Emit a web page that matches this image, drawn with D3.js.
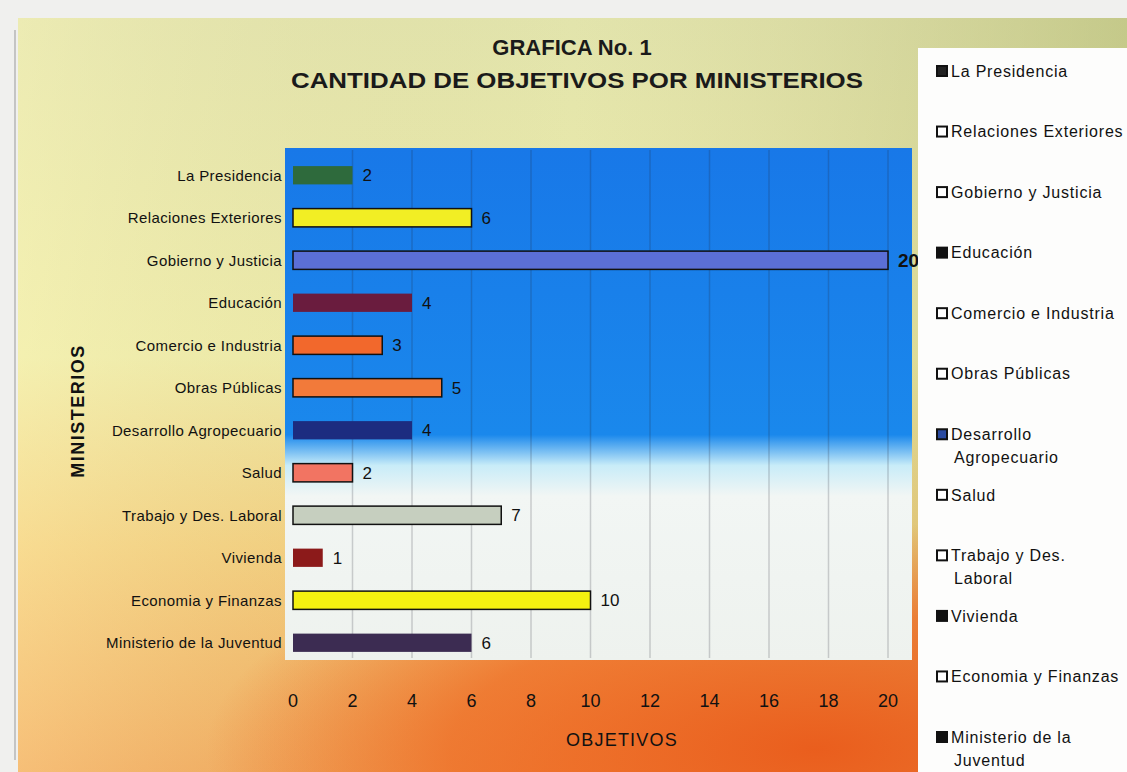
<!DOCTYPE html>
<html>
<head>
<meta charset="utf-8">
<script src="https://cdn.jsdelivr.net/npm/d3@7"></script>
<style>
  body { margin: 0; background: #fff; }
  svg { display: block; font-family: "Liberation Sans", Arial, sans-serif; }
</style>
</head>
<body>
<svg id="chart" width="1127" height="772"></svg>
<script>
(function () {
    'use strict';

    // datos
    var ministerios = ['La Presidencia', 'Relaciones Exteriores', 'Gobierno y Justicia', 'Educación',
        'Comercio e Industria', 'Obras Públicas', 'Desarrollo Agropecuario', 'Salud',
        'Trabajo y Des. Laboral', 'Vivienda', 'Economia y Finanzas', 'Ministerio de la Juventud'];
    var objetivos = [2, 6, 20, 4, 3, 5, 4, 2, 7, 1, 10, 6];
    var xTicks = [0, 2, 4, 6, 8, 10, 12, 14, 16, 18, 20];
    var legendLabels = [['La Presidencia'], ['Relaciones Exteriores'], ['Gobierno y Justicia'], ['Educación'],
        ['Comercio e Industria'], ['Obras Públicas'], ['Desarrollo', 'Agropecuario'], ['Salud'],
        ['Trabajo y Des.', 'Laboral'], ['Vivienda'], ['Economia y Finanzas'], ['Ministerio de la', 'Juventud']];

    var barColors = ['#2e6a3c', '#f2ee24', '#5b6fd6', '#6a1c3e', '#f2682c', '#f27a3a',
        '#1c2c80', '#f27462', '#c6cfbf', '#8c1a1a', '#f4f010', '#3c2c52'];
    var outlined = [false, true, true, false, true, true, false, true, true, false, true, false];
    var legendFill = ['#222', '#fff', '#fff', '#111', '#fff', '#fff', '#2a4aa0', '#fff', '#fff', '#111', '#fff', '#111'];

    var svg = d3.select('#chart');
    var defs = svg.append('defs');

    // fondo general
    var bg = defs.append('linearGradient').attr('id', 'bgV').attr('x1', 0).attr('y1', 0).attr('x2', 0).attr('y2', 1);
    bg.append('stop').attr('offset', 0).attr('stop-color', '#e2e4ac');
    bg.append('stop').attr('offset', 0.45).attr('stop-color', '#eeeca8');
    bg.append('stop').attr('offset', 0.7).attr('stop-color', '#f4cc78');
    bg.append('stop').attr('offset', 1).attr('stop-color', '#f2a050');

    var bgH = defs.append('linearGradient').attr('id', 'bgH').attr('x1', 0).attr('y1', 0).attr('x2', 1).attr('y2', 0);
    bgH.append('stop').attr('offset', 0).attr('stop-color', '#fff8c0').attr('stop-opacity', 0.35);
    bgH.append('stop').attr('offset', 0.5).attr('stop-color', '#c8c090').attr('stop-opacity', 0);
    bgH.append('stop').attr('offset', 1).attr('stop-color', '#a0a860').attr('stop-opacity', 0.45);

    var bgR = defs.append('radialGradient').attr('id', 'bgR').attr('cx', 0.72).attr('cy', 0.97).attr('r', 0.55)
        .attr('gradientTransform', 'translate(0.72,0.97) scale(1,0.55) translate(-0.72,-0.97)');
    bgR.append('stop').attr('offset', 0).attr('stop-color', '#ea5a1a').attr('stop-opacity', 0.95);
    bgR.append('stop').attr('offset', 0.6).attr('stop-color', '#ee6a24').attr('stop-opacity', 0.75);
    bgR.append('stop').attr('offset', 1).attr('stop-color', '#ee6a24').attr('stop-opacity', 0);

    var plotG = defs.append('linearGradient').attr('id', 'plotBg').attr('x1', 0).attr('y1', 0).attr('x2', 0).attr('y2', 1);
    plotG.append('stop').attr('offset', 0).attr('stop-color', '#1878e8');
    plotG.append('stop').attr('offset', 0.56).attr('stop-color', '#1a88ec');
    plotG.append('stop').attr('offset', 0.62).attr('stop-color', '#c8ecf8');
    plotG.append('stop').attr('offset', 0.68).attr('stop-color', '#f2f6f4');
    plotG.append('stop').attr('offset', 1).attr('stop-color', '#eef2ee');

    svg.append('rect').attr('width', 1127).attr('height', 772).attr('fill', '#f0f0ee');
    svg.append('rect').attr('x', 18).attr('y', 18).attr('width', 1109).attr('height', 754).attr('fill', 'url(#bgV)');
    svg.append('rect').attr('x', 18).attr('y', 18).attr('width', 1109).attr('height', 754).attr('fill', 'url(#bgH)');
    svg.append('rect').attr('x', 18).attr('y', 18).attr('width', 1109).attr('height', 754).attr('fill', 'url(#bgR)');
    svg.append('line').attr('x1', 15).attr('x2', 15).attr('y1', 30).attr('y2', 760)
        .attr('stroke', '#999').attr('stroke-width', 1);

    // escalas
    var x = d3.scaleLinear().domain([0, 20]).range([293, 888]);
    var y = d3.scaleBand().domain(ministerios).range([154, 664]).paddingInner(0.57).paddingOuter(0.285);

    // area del grafico
    svg.append('rect').attr('x', 285).attr('y', 148).attr('width', 627).attr('height', 512)
        .attr('fill', 'url(#plotBg)');

    svg.append('g').selectAll('line').data(xTicks.slice(1)).join('line')
        .attr('x1', d => x(d)).attr('x2', d => x(d))
        .attr('y1', 150).attr('y2', 658)
        .attr('stroke', '#223').attr('stroke-opacity', 0.2).attr('stroke-width', 1.5);

    // barras
    svg.append('g').selectAll('rect').data(objetivos).join('rect')
        .attr('x', x(0))
        .attr('y', (d, i) => y(ministerios[i]))
        .attr('width', d => x(d) - x(0))
        .attr('height', y.bandwidth())
        .attr('fill', (d, i) => barColors[i])
        .attr('stroke', (d, i) => outlined[i] ? '#111' : 'none')
        .attr('stroke-width', 1.5);

    // valores
    svg.append('g').selectAll('text').data(objetivos).join('text')
        .attr('x', d => x(d) + 10)
        .attr('y', (d, i) => y(ministerios[i]) + y.bandwidth() / 2)
        .attr('dy', '0.36em')
        .attr('font-size', d => d >= 20 ? 19 : 17)
        .attr('font-weight', d => d >= 20 ? 'bold' : 'normal')
        .attr('fill', '#111')
        .text(d => d);

    // etiquetas del eje y
    svg.append('g').selectAll('text').data(ministerios).join('text')
        .attr('x', 282)
        .attr('y', d => y(d) + y.bandwidth() / 2)
        .attr('dy', '0.36em')
        .attr('text-anchor', 'end')
        .attr('font-size', 15)
        .attr('letter-spacing', 0.4)
        .attr('fill', '#111')
        .text(d => d);

    // eje x
    svg.append('g').selectAll('text').data(xTicks).join('text')
        .attr('x', d => x(d))
        .attr('y', 707)
        .attr('text-anchor', 'middle')
        .attr('font-size', 18)
        .attr('fill', '#111')
        .text(d => d);

    svg.append('text').attr('x', 622).attr('y', 746).attr('text-anchor', 'middle')
        .attr('font-size', 18).attr('letter-spacing', 1.2).attr('fill', '#111').text('OBJETIVOS');

    svg.append('text').attr('transform', 'translate(84,411) rotate(-90)')
        .attr('text-anchor', 'middle').attr('font-size', 18).attr('letter-spacing', 1.5).attr('font-weight', 'bold')
        .attr('fill', '#111').text('MINISTERIOS');

    // titulo
    svg.append('text').attr('x', 572).attr('y', 55).attr('text-anchor', 'middle')
        .attr('font-size', 22).attr('font-weight', 'bold').attr('fill', '#1a1a1a').text('GRAFICA No. 1');
    svg.append('text').attr('x', 577).attr('y', 88).attr('text-anchor', 'middle')
        .attr('font-size', 22).attr('font-weight', 'bold').attr('fill', '#1a1a1a')
        .attr('textLength', 572).attr('lengthAdjust', 'spacingAndGlyphs')
        .text('CANTIDAD DE OBJETIVOS POR MINISTERIOS');

    // leyenda
    svg.append('rect').attr('x', 918).attr('y', 48).attr('width', 215).attr('height', 730)
        .attr('fill', '#fdfdfc');
    var legendY = d3.scalePoint().domain(ministerios).range([71, 737]);
    var item = svg.append('g').selectAll('g').data(legendLabels).join('g')
        .attr('transform', (d, i) => 'translate(937,' + legendY(ministerios[i]) + ')');
    item.append('rect').attr('x', 0).attr('y', -5).attr('width', 10).attr('height', 10)
        .attr('fill', (d, i) => legendFill[i]).attr('stroke', '#111').attr('stroke-width', 2);
    item.selectAll('text').data(d => d).join('text')
        .attr('x', (d, j) => j === 0 ? 14 : 17)
        .attr('y', (d, j) => j * 23)
        .attr('dy', '0.36em')
        .attr('font-size', 16)
        .attr('letter-spacing', 0.8)
        .attr('fill', '#111')
        .text(d => d);
}());
</script>
</body>
</html>
